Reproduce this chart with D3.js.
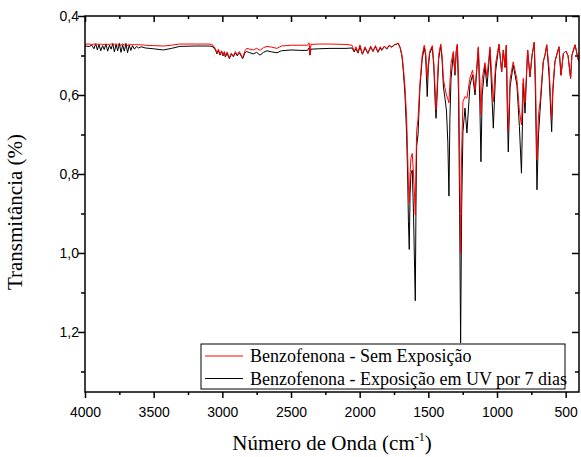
<!DOCTYPE html>
<html>
<head>
<meta charset="utf-8">
<script src="https://cdn.jsdelivr.net/npm/d3@7.9.0/dist/d3.min.js"></script>
<style>
  body { margin: 0; background: #fff; }
  svg { display: block; }
  .tick text { font-family: "Liberation Sans", Arial, sans-serif; font-size: 14px; fill: #000; }
  .title { font-family: "Liberation Serif", "Times New Roman", serif; font-size: 21px; fill: #000; }
  .legend text { font-family: "Liberation Serif", "Times New Roman", serif; font-size: 18px; fill: #000; }
</style>
</head>
<body>
<svg id="chart" width="581" height="457"></svg>
<script>
// wavenumber (cm-1)
const wavenumber = [
  4000, 3970, 3950, 3935, 3922, 3910, 3898, 3885, 3872, 3860,
  3848, 3835, 3822, 3810, 3798, 3786, 3774, 3762, 3750, 3738,
  3726, 3714, 3702, 3690, 3678, 3666, 3654, 3640, 3625, 3610,
  3590, 3560, 3500, 3430, 3370, 3310, 3200, 3090, 3068, 3050,
  3039, 3028, 3017, 3005, 2995, 2985, 2978, 2965, 2949, 2935,
  2920, 2905, 2891, 2876, 2852, 2835, 2823, 2800, 2775, 2750,
  2726, 2700, 2675, 2640, 2602, 2570, 2500, 2435, 2380, 2368,
  2362, 2355, 2300, 2216, 2100, 2056, 2040, 2027, 2012, 1998,
  1980, 1961, 1940, 1920, 1903, 1885, 1867, 1850, 1840, 1820,
  1803, 1785, 1767, 1745, 1730, 1719, 1705, 1692, 1682, 1670,
  1658, 1650, 1645, 1639, 1633, 1627, 1617, 1608, 1600, 1595,
  1590, 1585, 1575, 1561, 1545, 1530, 1520, 1508, 1500, 1490,
  1471, 1460, 1450, 1444, 1436, 1425, 1410, 1400, 1390, 1379,
  1368, 1358, 1350, 1343, 1335, 1318, 1306, 1297, 1289, 1280,
  1272, 1265, 1258, 1248, 1233, 1219, 1197, 1178, 1160, 1136,
  1125, 1117, 1108, 1088, 1073, 1051, 1040, 1027, 1010, 986,
  966, 954, 942, 932, 925, 918, 905, 882, 855, 837,
  822, 809, 796, 777, 760, 745, 729, 720, 709, 698,
  687, 663, 651, 638, 621, 602, 593, 578, 549, 534,
  517, 498, 483, 464, 455, 432, 408, 403
];

// Benzofenona - Sem Exposição (red)
const semExposicao = [
  .471, .471, .472, .471, .472, .471, .472, .471, .472, .472,
  .471, .472, .472, .471, .470, .473, .470, .474, .469, .475,
  .470, .474, .469, .476, .471, .473, .472, .473, .472, .473,
  .473, .474, .475, .476, .474, .471, .471, .471, .474, .483,
  .494, .484, .497, .488, .499, .490, .502, .491, .506, .494,
  .501, .490, .498, .490, .506, .488, .482, .484, .486, .482,
  .487, .480, .477, .479, .482, .476, .474, .474, .474, .468,
  .499, .472, .471, .471, .472, .474, .489, .478, .492, .473,
  .496, .478, .494, .476, .489, .475, .491, .478, .485, .476,
  .482, .474, .478, .472, .471, .469, .480, .500, .530, .580,
  .660, .760, .830, .873, .800, .760, .748, .800, .860, .904,
  .780, .690, .660, .570, .500, .474, .490, .558, .520, .490,
  .475, .520, .590, .638, .580, .500, .471, .500, .560, .582,
  .600, .610, .620, .570, .520, .490, .545, .490, .471, .550,
  .750, 1.001, .750, .617, .604, .608, .557, .537, .587, .478,
  .560, .650, .560, .518, .554, .478, .540, .617, .520, .472,
  .541, .486, .530, .474, .600, .690, .560, .516, .560, .640,
  .676, .558, .620, .486, .554, .500, .467, .550, .765, .650,
  .620, .515, .500, .473, .530, .660, .580, .515, .478, .550,
  .495, .489, .500, .558, .500, .473, .511, .515
];

// Benzofenona - Exposição em UV por 7 dias (black)
const exposicaoUV = [
  .476, .477, .474, .483, .470, .486, .472, .488, .475, .485,
  .471, .489, .474, .484, .470, .491, .472, .488, .469, .492,
  .473, .489, .470, .493, .474, .487, .475, .484, .477, .481,
  .478, .481, .483, .486, .482, .477, .476, .476, .478, .486,
  .496, .487, .499, .490, .501, .492, .504, .494, .508, .497,
  .503, .494, .501, .493, .508, .493, .490, .493, .496, .492,
  .499, .492, .488, .491, .493, .488, .486, .487, .487, .481,
  .499, .484, .483, .482, .482, .481, .491, .483, .494, .478,
  .497, .481, .495, .479, .490, .477, .492, .480, .487, .477,
  .484, .475, .479, .473, .471, .469, .481, .502, .540, .600,
  .700, .820, .920, .991, .850, .800, .790, .900, 1.040, 1.121,
  .880, .730, .700, .580, .510, .480, .500, .604, .530, .495,
  .479, .530, .620, .659, .600, .510, .474, .510, .580, .608,
  .640, .720, .856, .660, .560, .495, .550, .490, .474, .600,
  .900, 1.228, .900, .693, .633, .696, .575, .549, .600, .481,
  .620, .769, .600, .525, .579, .484, .580, .684, .540, .472,
  .541, .486, .530, .474, .640, .744, .580, .524, .575, .680,
  .798, .570, .646, .486, .554, .500, .467, .600, .840, .700,
  .642, .515, .500, .473, .550, .693, .590, .515, .478, .550,
  .495, .489, .500, .558, .500, .473, .511, .515
];

const seriesNames = ['Benzofenona - Sem Exposição', 'Benzofenona - Exposição em UV por 7 dias'];
const seriesColors = ['#ff0000', '#000000'];
const xTicks = [4000, 3500, 3000, 2500, 2000, 1500, 1000, 500];
const xMinor = [3750, 3250, 2750, 2250, 1750, 1250, 750];
const yTicks = [0.4, 0.6, 0.8, 1.0, 1.2];
const yMinor = [0.5, 0.7, 0.9, 1.1, 1.3];

const plotLeft = 85, plotRight = 579, plotTop = 16, plotBottom = 392;
const svg = d3.select('#chart');

let x = d3.scaleLinear().domain([4000, 403]).range([plotLeft, plotRight]);
let y = d3.scaleLinear().domain([0.4, 1.352]).range([plotTop, plotBottom]);

svg.append('clipPath').attr('id', 'plot-clip')
  .append('rect')
  .attr('x', plotLeft).attr('y', plotTop)
  .attr('width', plotRight - plotLeft).attr('height', plotBottom - plotTop);

const fmt = d => d3.format('.1f')(d).replace('.', ',');

function addAxis(axis, transform, labels) {
  const g = svg.append('g').attr('transform', transform).call(axis);
  g.select('.domain').remove();
  g.selectAll('.tick line').attr('stroke', '#000').attr('stroke-width', 1.5);
  if (!labels) g.selectAll('.tick text').remove();
  return g;
}

// bottom & left ticks point outwards, top & right point inwards
addAxis(d3.axisBottom(x).tickValues(xTicks).tickSize(6).tickPadding(9).tickFormat(d3.format('d')), `translate(0,${plotBottom})`, true);
addAxis(d3.axisBottom(x).tickValues(xMinor).tickSize(3), `translate(0,${plotBottom})`, false);
addAxis(d3.axisTop(x).tickValues(xTicks).tickSize(-6), `translate(0,${plotTop})`, false);
addAxis(d3.axisTop(x).tickValues(xMinor).tickSize(-3), `translate(0,${plotTop})`, false);

addAxis(d3.axisLeft(y).tickValues(yTicks).tickSize(7).tickPadding(-1).tickFormat(fmt), `translate(${plotLeft},0)`, true);
addAxis(d3.axisLeft(y).tickValues(yMinor).tickSize(4), `translate(${plotLeft},0)`, false);
addAxis(d3.axisRight(y).tickValues(yTicks).tickSize(-7), `translate(${plotRight},0)`, false);
addAxis(d3.axisRight(y).tickValues(yMinor).tickSize(-4), `translate(${plotRight},0)`, false);

// spectra: black first, red on top
const plot = svg.append('g').attr('clip-path', 'url(#plot-clip)');
const line = values => d3.line()
  .x((d, i) => x(wavenumber[i]))
  .y(d => y(d))(values);

[exposicaoUV, semExposicao].forEach((values, k) => {
  plot.append('path')
    .attr('d', line(values))
    .attr('fill', 'none')
    .attr('stroke', k === 0 ? seriesColors[1] : seriesColors[0])
    .attr('stroke-width', 1)
    .attr('stroke-linejoin', 'round');
});

// frame
svg.append('rect')
  .attr('x', plotLeft).attr('y', plotTop)
  .attr('width', plotRight - plotLeft).attr('height', plotBottom - plotTop)
  .attr('fill', 'none').attr('stroke', '#000').attr('stroke-width', 1.5);

// legend
const legend = svg.append('g').attr('class', 'legend');
legend.append('rect')
  .attr('x', 201).attr('y', 344).attr('width', 364).attr('height', 45)
  .attr('fill', '#fff').attr('stroke', '#000').attr('stroke-width', 1);
seriesNames.forEach((name, i) => {
  const ly = 356 + i * 22.5;
  legend.append('line')
    .attr('x1', 205).attr('x2', 243).attr('y1', ly).attr('y2', ly)
    .attr('stroke', seriesColors[i]).attr('stroke-width', 1);
  legend.append('text').attr('x', 250).attr('y', ly + 6).text(name);
});

// axis titles
svg.append('text').attr('class', 'title')
  .attr('transform', 'translate(22,212) rotate(-90)')
  .attr('text-anchor', 'middle')
  .text('Transmitância (%)');

const xt = svg.append('text').attr('class', 'title')
  .attr('x', 332).attr('y', 450).attr('text-anchor', 'middle');
xt.append('tspan').text('Número de Onda (cm');
xt.append('tspan').attr('font-size', 12).attr('dy', -9).text('-1');
xt.append('tspan').attr('dy', 9).text(')');
</script>
</body>
</html>
